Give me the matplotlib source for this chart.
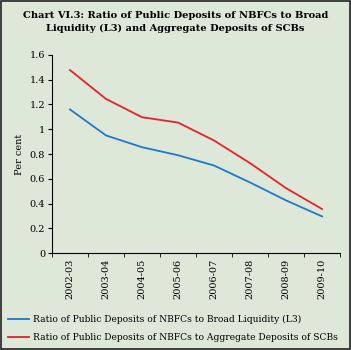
import numpy as np
import matplotlib.pyplot as plt
from matplotlib.patches import Rectangle

years = ['2002-03', '2003-04', '2004-05', '2005-06', '2006-07', '2007-08', '2008-09', '2009-10']
l3 = [1.16, 0.95, 0.855, 0.79, 0.707, 0.57, 0.425, 0.296]
scb = [1.478, 1.245, 1.097, 1.054, 0.909, 0.726, 0.524, 0.355]

bg = '#dde8d9'
plt.rcParams['font.family'] = ['DejaVu Serif']

fig = plt.figure(figsize=(3.51, 3.5), dpi=100, facecolor=bg)
ax = fig.add_axes([0.148, 0.277, 0.821, 0.566], facecolor=bg)

x = np.arange(len(years))
ax.plot(x, l3, color='#1f78c8', lw=1.3, label='Ratio of Public Deposits of NBFCs to Broad Liquidity (L3)')
ax.plot(x, scb, color='#e8202a', lw=1.3, label='Ratio of Public Deposits of NBFCs to Aggregate Deposits of SCBs')

ax.set_xlim(-0.5, len(years) - 0.5)
ax.set_ylim(0, 1.6)
ax.set_yticks(np.arange(0, 1.61, 0.2))
ax.set_yticklabels(['0', '0.2', '0.4', '0.6', '0.8', '1', '1.2', '1.4', '1.6'], fontsize=7)
ax.set_xticks(x)
ax.set_xticklabels(years, rotation=90, fontsize=7)
ax.set_xticks(np.arange(-0.5, len(years)), minor=True)
ax.tick_params(axis='x', which='major', length=0, pad=4)
ax.tick_params(axis='x', which='minor', length=3, direction='out')
ax.tick_params(axis='y', length=3, direction='out', pad=2)
for s in ['top', 'right']:
    ax.spines[s].set_visible(False)
ax.set_ylabel('Per cent', fontsize=7)

fig.text(0.5, 0.968, 'Chart VI.3: Ratio of Public Deposits of NBFCs to Broad\nLiquidity (L3) and Aggregate Deposits of SCBs',
         ha='center', va='top', fontsize=7.1, fontweight='bold', linespacing=1.45)

fig.legend(loc='lower left', bbox_to_anchor=(0.0, 0.0), frameon=False, fontsize=6.6,
           handlelength=2.3, handletextpad=0.4, labelspacing=0.95)

fig.patches.append(Rectangle((0.002, 0.002), 0.996, 0.996, transform=fig.transFigure,
                             fill=False, edgecolor='#222222', lw=1.2))

fig.savefig('out.png', dpi=100, facecolor=bg)
